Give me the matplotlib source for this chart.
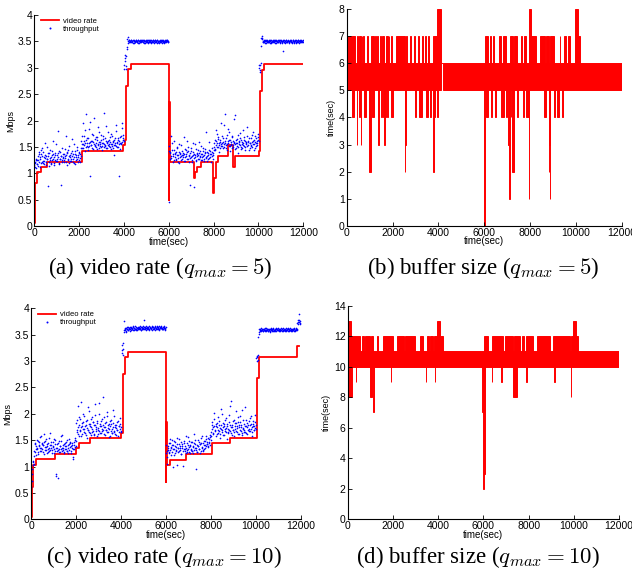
import numpy as np
import matplotlib.pyplot as plt

plt.rcParams['font.family'] = ['Liberation Sans', 'DejaVu Sans']
plt.rcParams['mathtext.fontset'] = 'cm'

sample_period = 30  # seconds between two throughput samples of one probe
probe_offset = 15   # second probe is shifted by half a period

# ---- q_max = 5 : requested video rate (step changes) ----
rate_a_t = [0, 30, 100, 280, 550, 2110, 3970, 4045, 4090, 4190, 4300, 6000, 6030, 6060,
            7110, 7180, 7255, 7435, 7955, 8030, 8120, 8180, 8620, 8860, 8960, 10005,
            10080, 10155, 10260, 12000]
rate_a_v = [0.05, 0.81, 1.02, 1.12, 1.22, 1.43, 1.53, 1.63, 2.65, 2.97, 3.07, 0.50, 2.35, 1.22,
            0.92, 1.02, 1.12, 1.22, 0.62, 0.92, 1.22, 1.32, 1.54, 1.12, 1.33, 1.43,
            2.56, 2.96, 3.07, 3.07]

# measured throughput
tp_a = [
    1.15, 1.22, 1.10, 1.25,
    1.18, 1.32, 1.25, 1.41, 1.12, 1.28, 1.36, 1.21, 1.47, 1.19,
    1.30, 1.24, 1.58, 1.15, 1.33, 1.27, 0.76, 1.39, 1.22, 1.29,
    1.44, 1.17, 1.35, 1.26, 1.62, 1.31, 1.20, 1.38, 1.23, 1.34,
    1.28, 1.80, 1.19, 1.42, 1.27, 1.33, 0.77, 1.25, 1.37, 1.30,
    1.21, 1.46, 1.29, 1.35, 1.16, 1.40, 1.26, 1.52, 1.32, 1.24,
    1.38, 1.28, 1.65, 1.22, 1.36, 1.31, 1.43, 1.18, 1.34, 1.27,
    1.49, 1.30, 1.39, 1.25, 1.21, 1.33,
    1.62, 1.48, 1.95, 1.55, 1.71, 1.43, 1.58, 2.12, 1.52, 1.66,
    1.49, 1.84, 1.57, 0.94, 1.61, 1.53, 1.75, 1.46, 1.59, 2.05,
    1.54, 1.68, 1.50, 1.63, 1.56, 1.88, 1.47, 1.60, 1.52, 1.72,
    1.58, 1.45, 1.65, 1.55, 2.15, 1.51, 1.62, 1.48, 1.57, 1.79,
    1.53, 1.64, 1.50, 1.59, 1.46, 1.70, 1.56, 1.61, 1.34, 1.54,
    1.66, 1.52, 1.92, 1.58, 1.49, 1.63, 0.95, 1.57, 1.68, 1.55,
    1.60, 1.85, 1.72,
    1.62, 3.05, 3.18, 2.97, 3.22,
    3.40, 3.58, 3.47, 3.52, 3.49, 3.51, 3.53, 3.48, 3.50, 3.52,
    3.47, 3.51, 3.49, 3.53, 3.50, 3.48, 3.52, 3.51, 3.47, 3.50,
    3.53, 3.49, 3.51, 3.48, 3.52, 3.50, 3.47, 3.51, 3.53, 3.49,
    3.50, 3.52, 3.48, 3.51, 3.49, 3.53, 3.47, 3.50, 3.52, 3.49,
    3.51, 3.48, 3.53, 3.50, 3.47, 3.52, 3.49, 3.51, 3.50, 3.48,
    3.53, 3.51, 3.47, 3.50, 3.52, 3.49, 3.51, 3.48, 3.53, 3.50,
    3.52, 3.49,
    0.45,
    1.52, 1.38, 1.71, 1.29, 1.44, 1.33, 1.25, 1.62, 1.36, 1.41,
    1.28, 1.47, 1.35, 1.22, 1.55, 1.31, 1.39, 1.26, 1.43, 1.34,
    1.30, 1.68, 1.37, 1.24, 1.45, 1.32, 1.40, 1.27, 1.50, 1.35,
    0.78, 1.29, 1.42, 1.33, 1.21, 1.57, 1.36, 0.74, 1.31, 1.46,
    1.25, 1.38, 1.34, 1.28, 1.60, 1.32, 1.43, 1.26, 1.37, 1.30,
    1.48, 1.23, 1.35, 1.41, 1.29, 1.79, 1.33, 1.39, 1.27, 1.44,
    1.31, 1.36, 1.22, 1.40, 1.34, 1.28,
    1.50, 1.63, 1.45, 1.82, 1.57, 1.49, 1.68, 1.54, 1.41, 1.60,
    1.52, 1.95, 1.58, 1.47, 1.66, 1.55, 2.12, 1.61, 1.48, 1.73,
    1.56, 1.84, 1.51, 1.64, 1.43, 1.59, 1.53, 1.70, 1.49, 1.62,
    1.57, 2.10, 1.46, 1.58, 1.65, 1.52, 1.38, 1.60, 1.55, 1.76,
    1.50, 1.63, 1.47, 1.58, 1.54, 1.69, 1.44, 1.61, 1.56, 1.88,
    1.51, 1.59, 1.66, 1.48, 1.57, 1.53, 1.72, 1.49, 1.62, 1.55,
    1.45, 1.60, 1.67, 1.52, 1.58, 1.63, 1.75,
    3.00, 2.95, 3.05, 3.42,
    3.60, 3.55, 3.49, 3.51, 3.48, 3.52, 3.50, 3.47, 3.53, 3.49,
    3.51, 3.48, 3.50, 3.52, 3.47, 3.51, 3.49, 3.53, 3.50, 3.48,
    3.52, 3.51, 3.47, 3.50, 3.53, 3.49, 3.51, 3.48, 3.52, 3.50,
    3.47, 3.51, 3.31, 3.49, 3.53, 3.50, 3.48, 3.52, 3.49, 3.51,
    3.47, 3.50, 3.53, 3.48, 3.51, 3.49, 3.52, 3.50, 3.47, 3.51,
    3.53, 3.49, 3.50, 3.48, 3.52, 3.51, 3.47, 3.50, 3.49, 3.53,
    3.51, 3.48,
]
tp_a2 = [
    1.20, 1.12, 1.27, 1.18,
    1.26, 1.14, 1.37, 1.22, 1.30, 1.45, 1.19, 1.33, 1.24, 1.40,
    1.17, 1.29, 1.35, 1.21, 1.50, 1.27, 1.32, 1.13, 1.38, 1.25,
    1.31, 1.20, 1.43, 1.28, 1.36, 1.16, 1.34, 1.26, 1.55, 1.23,
    1.39, 1.30, 1.18, 1.41, 1.27, 1.33, 1.22, 1.48, 1.29, 1.36,
    1.25, 1.32, 1.70, 1.21, 1.38, 1.28, 1.44, 1.19, 1.35, 1.30,
    1.24, 1.42, 1.33, 1.27, 1.56, 1.20, 1.37, 1.31, 1.26, 1.45,
    1.34, 1.22, 1.40, 1.29, 1.36, 1.48,
    1.55, 1.70, 1.47, 1.61, 1.53, 1.82, 1.50, 1.64, 1.58, 1.45,
    1.67, 1.52, 1.59, 1.98, 1.54, 1.62, 1.48, 1.73, 1.56, 1.51,
    1.65, 1.57, 1.46, 1.69, 1.53, 1.60, 1.78, 1.55, 1.49, 1.63,
    1.52, 1.58, 1.71, 1.50, 1.66, 1.54, 1.90, 1.59, 1.47, 1.62,
    1.56, 1.51, 1.68, 1.55, 1.74, 1.52, 1.60, 1.48, 1.64, 1.57,
    1.53, 1.81, 1.59, 1.50, 1.66, 1.55, 1.61, 1.46, 1.70, 1.58,
    1.96, 1.63, 1.67,
    2.98, 3.12, 3.25, 3.03, 3.36,
    3.55, 3.50, 3.52, 3.48, 3.51, 3.49, 3.53, 3.50, 3.47, 3.52,
    3.50, 3.48, 3.53, 3.51, 3.49, 3.52, 3.47, 3.50, 3.53, 3.48,
    3.51, 3.50, 3.52, 3.49, 3.47, 3.53, 3.50, 3.48, 3.51, 3.52,
    3.49, 3.47, 3.53, 3.50, 3.52, 3.48, 3.51, 3.49, 3.53, 3.47,
    3.50, 3.52, 3.48, 3.51, 3.53, 3.49, 3.50, 3.47, 3.52, 3.51,
    3.48, 3.50, 3.53, 3.49, 3.51, 3.47, 3.52, 3.50, 3.48, 3.53,
    3.51, 3.49,
    1.42,
    1.40, 1.27, 1.33, 1.58, 1.36, 1.22, 1.45, 1.31, 1.38, 1.26,
    1.49, 1.34, 1.29, 1.41, 1.20, 1.37, 1.32, 1.53, 1.28, 1.39,
    1.35, 1.24, 1.46, 1.30, 1.36, 1.62, 1.27, 1.42, 1.33, 1.21,
    1.38, 1.31, 1.47, 1.25, 1.35, 1.40, 1.29, 1.34, 1.55, 1.23,
    1.37, 1.32, 1.44, 1.27, 1.39, 1.30, 1.36, 1.51, 1.26, 1.42,
    1.33, 1.28, 1.38, 1.46, 1.31, 1.24, 1.40, 1.35, 1.59, 1.29,
    1.43, 1.37, 1.32, 1.48, 1.39, 1.45,
    1.58, 1.46, 1.61, 1.53, 1.74, 1.50, 1.65, 1.57, 1.48, 1.63,
    1.55, 1.71, 1.52, 1.60, 1.92, 1.49, 1.58, 1.66, 1.54, 1.45,
    1.62, 1.57, 1.79, 1.51, 1.64, 1.56, 1.48, 1.69, 1.53, 1.60,
    2.02, 1.55, 1.47, 1.63, 1.58, 1.72, 1.50, 1.61, 1.54, 1.67,
    1.46, 1.59, 1.56, 1.83, 1.52, 1.64, 1.49, 1.60, 1.57, 1.71,
    1.53, 1.62, 1.45, 1.58, 1.66, 1.51, 1.59, 1.78, 1.55, 1.63,
    1.48, 1.70, 1.57, 1.61, 1.54, 1.68, 1.62,
    3.05, 2.92, 3.10, 3.56,
    3.57, 3.51, 3.48, 3.52, 3.50, 3.47, 3.53, 3.49, 3.51, 3.48,
    3.52, 3.50, 3.47, 3.53, 3.49, 3.51, 3.50, 3.48, 3.52, 3.47,
    3.50, 3.53, 3.49, 3.51, 3.48, 3.52, 3.50, 3.47, 3.53, 3.51,
    3.49, 3.50, 3.52, 3.48, 3.51, 3.47, 3.53, 3.50, 3.49, 3.52,
    3.48, 3.51, 3.50, 3.53, 3.47, 3.49, 3.52, 3.51, 3.48, 3.50,
    3.53, 3.47, 3.51, 3.49, 3.52, 3.50, 3.48, 3.53, 3.51, 3.49,
    3.50, 3.52,
]

# ---- q_max = 10 ----
rate_c_t = [0, 30, 60, 90, 190, 1040, 2005, 2110, 2600, 3980, 4070, 4160, 4310, 6000, 6020,
            6040, 6178, 6891, 8035, 8850, 10040, 10143, 11822, 11938]
rate_c_v = [0.05, 0.62, 0.93, 1.03, 1.14, 1.23, 1.35, 1.44, 1.55, 1.64, 2.76, 3.07, 3.17, 0.70, 1.85,
            1.02, 1.12, 1.23, 1.44, 1.55, 2.67, 3.08, 3.29, 3.29]

tp_c = [
    0.62, 0.85, 1.02, 1.10,
    1.05, 1.28, 1.42, 1.33, 1.51, 1.36, 1.24, 1.47, 1.39, 1.30,
    1.58, 1.35, 1.44, 1.27, 1.40, 1.62, 1.32, 1.48, 1.37, 1.25,
    1.43, 1.34, 1.55, 1.29, 1.41, 1.36, 1.46, 1.31, 1.38, 1.52,
    1.26, 1.42, 1.35, 0.82, 1.30, 0.78, 1.45, 1.33, 1.39, 1.28,
    1.49, 1.36, 1.60, 1.32, 1.43, 1.27, 1.38, 1.34, 1.47, 1.30,
    1.41, 1.25, 1.53, 1.37, 1.44, 1.29, 1.35, 1.40, 1.18, 1.46,
    1.33, 1.50, 1.39,
    1.82, 1.65, 2.15, 1.74, 1.58, 1.90, 1.69, 2.22, 1.77, 1.61,
    1.85, 1.72, 1.96, 1.63, 1.79, 1.54, 1.88, 1.70, 2.05, 1.66,
    1.81, 1.59, 1.75, 1.93, 1.68, 1.84, 1.62, 1.78, 2.18, 1.71,
    1.86, 1.57, 1.73, 1.99, 1.67, 1.80, 1.64, 1.76, 1.91, 1.69,
    2.32, 1.74, 1.60, 1.83, 1.70, 1.95, 1.65, 1.78, 1.56, 1.72,
    1.87, 1.68, 1.81, 1.63, 2.08, 1.75, 1.66, 1.79, 1.61, 1.73,
    1.84, 1.69, 1.58, 1.77, 1.92, 1.71, 1.66,
    3.30, 3.15, 3.22, 3.55,
    3.76, 3.58, 3.62, 3.55, 3.60, 3.64, 3.59, 3.63, 3.61, 3.57,
    3.65, 3.60, 3.62, 3.66, 3.59, 3.63, 3.61, 3.64, 3.58, 3.62,
    3.65, 3.60, 3.63, 3.61, 3.66, 3.59, 3.64, 3.62, 3.60, 3.65,
    3.78, 3.61, 3.63, 3.66, 3.60, 3.64, 3.62, 3.59, 3.65, 3.63,
    3.61, 3.66, 3.60, 3.64, 3.62, 3.65, 3.59, 3.63, 3.67, 3.61,
    3.64, 3.60, 3.66, 3.62, 3.65, 3.63, 3.60, 3.64, 3.61, 3.66,
    3.62, 3.59,
    1.25, 1.05, 1.30,
    1.32, 1.45, 1.28, 1.52, 1.37, 1.22, 1.41, 1.00, 1.34, 1.48,
    1.26, 1.39, 1.31, 1.55, 1.02, 1.36, 1.43, 1.29, 1.35, 1.47,
    1.24, 1.38, 1.01, 1.33, 1.44, 1.30, 1.58, 1.36, 1.27, 1.41,
    1.34, 1.49, 1.25, 1.39, 1.32, 1.46, 1.29, 1.37, 1.62, 1.31,
    1.43, 0.95, 1.35, 1.28, 1.50, 1.38, 1.33, 1.42, 1.26, 1.45,
    1.36, 1.57, 1.30, 1.40, 1.34, 1.48, 1.39, 1.52, 1.43, 1.37,
    1.55, 1.46, 1.41, 1.60,
    1.58, 1.72, 1.85, 1.64, 1.77, 2.02, 1.69, 1.81, 1.61, 1.74,
    1.93, 1.67, 1.79, 1.55, 1.71, 2.10, 1.66, 1.83, 1.60, 1.76,
    1.89, 1.68, 1.73, 1.52, 1.80, 1.65, 1.97, 1.70, 1.78, 2.25,
    1.63, 1.75, 1.86, 1.69, 1.57, 1.82, 1.72, 2.05, 1.66, 1.77,
    1.84, 1.61, 1.74, 1.95, 1.68, 1.79, 1.59, 1.73, 1.88, 1.70,
    2.12, 1.65, 1.76, 1.83, 1.62, 1.78, 1.71, 1.92, 1.67, 1.80,
    1.74, 1.58, 1.86, 1.69, 1.77, 1.98, 1.72,
    3.05, 3.10, 3.02,
    3.45, 3.52, 3.58, 3.60, 3.56, 3.59, 3.61, 3.57, 3.60, 3.58,
    3.62, 3.56, 3.59, 3.61, 3.57, 3.60, 3.58, 3.55, 3.61, 3.59,
    3.57, 3.60, 3.62, 3.58, 3.56, 3.59, 3.61, 3.57, 3.60, 3.58,
    3.63, 3.59, 3.56, 3.61, 3.58, 3.60, 3.57, 3.62, 3.59, 3.61,
    3.58, 3.56, 3.60, 3.59, 3.62, 3.57, 3.61, 3.58, 3.60, 3.59,
    3.57, 3.61, 3.58, 3.60, 3.56, 3.59, 3.62, 3.58, 3.72, 3.77,
    3.90, 3.74, 3.76,
]
tp_c2 = [
    0.72, 0.95, 1.08, 1.20,
    1.30, 1.45, 1.22, 1.38, 1.33, 1.49, 1.27, 1.41, 1.36, 1.56,
    1.29, 1.43, 1.34, 1.40, 1.24, 1.47, 1.37, 1.31, 1.52, 1.39,
    1.28, 1.44, 1.35, 1.63, 1.32, 1.40, 1.26, 1.46, 1.37, 1.33,
    1.50, 1.29, 0.86, 1.42, 1.36, 1.31, 1.48, 1.27, 1.39, 1.34,
    1.57, 1.30, 1.41, 1.36, 1.25, 1.45, 1.33, 1.38, 1.29, 1.51,
    1.35, 1.42, 1.31, 1.47, 1.26, 1.39, 1.44, 1.34, 1.15, 1.40,
    1.37, 1.55, 1.48,
    1.70, 1.88, 1.62, 1.79, 1.94, 1.67, 1.75, 1.58, 1.83, 1.71,
    2.00, 1.65, 1.77, 1.86, 1.60, 1.73, 2.12, 1.69, 1.80, 1.63,
    1.76, 1.90, 1.66, 1.72, 1.85, 1.59, 1.78, 1.97, 1.68, 1.74,
    1.82, 1.61, 1.70, 2.20, 1.76, 1.64, 1.87, 1.72, 1.67, 1.79,
    1.93, 1.62, 1.75, 1.84, 1.69, 2.03, 1.73, 1.66, 1.80, 1.58,
    1.77, 1.89, 1.64, 1.71, 1.83, 1.68, 1.95, 1.74, 1.60, 1.78,
    1.70, 1.86, 1.65, 1.76, 1.81, 1.67, 1.75,
    3.20, 3.12, 3.35, 3.58,
    3.60, 3.63, 3.57, 3.61, 3.64, 3.59, 3.62, 3.60, 3.65, 3.58,
    3.63, 3.61, 3.59, 3.64, 3.62, 3.60, 3.66, 3.61, 3.63, 3.59,
    3.62, 3.65, 3.60, 3.63, 3.58, 3.64, 3.61, 3.66, 3.62, 3.60,
    3.63, 3.65, 3.59, 3.62, 3.64, 3.61, 3.66, 3.60, 3.63, 3.62,
    3.65, 3.59, 3.64, 3.61, 3.63, 3.66, 3.60, 3.62, 3.65, 3.61,
    3.63, 3.59, 3.64, 3.62, 3.66, 3.60, 3.63, 3.61, 3.65, 3.62,
    3.60, 3.64,
    1.40, 1.18, 1.35,
    1.38, 1.25, 1.44, 1.31, 1.36, 1.50, 1.28, 1.40, 1.34, 1.22,
    1.46, 1.37, 1.30, 1.42, 1.27, 1.35, 1.53, 1.32, 1.39, 1.24,
    1.43, 1.36, 1.29, 1.48, 1.33, 1.38, 1.26, 1.45, 1.31, 1.56,
    1.37, 1.28, 1.41, 1.34, 1.47, 1.30, 1.39, 1.25, 1.44, 1.36,
    1.51, 1.32, 1.40, 1.27, 1.38, 1.46, 1.33, 1.42, 1.29, 1.54,
    1.37, 1.44, 1.31, 1.49, 1.40, 1.35, 1.58, 1.43, 1.47, 1.39,
    1.52, 1.44, 1.56, 1.50,
    1.66, 1.79, 1.61, 1.74, 1.90, 1.68, 1.76, 1.57, 1.83, 1.70,
    1.64, 1.87, 1.73, 1.62, 1.78, 2.00, 1.69, 1.75, 1.59, 1.81,
    1.72, 1.66, 1.92, 1.77, 1.63, 1.71, 1.85, 1.68, 2.15, 1.74,
    1.60, 1.79, 1.70, 1.88, 1.65, 1.76, 1.82, 1.67, 1.73, 1.94,
    1.61, 1.78, 1.69, 1.84, 1.75, 1.64, 2.07, 1.71, 1.80, 1.66,
    1.77, 1.89, 1.63, 1.74, 1.70, 1.86, 1.68, 1.79, 1.72, 1.96,
    1.65, 1.81, 1.76, 1.69, 1.84, 1.73, 1.78,
    3.08, 3.00, 3.12,
    3.55, 3.60, 3.57, 3.59, 3.62, 3.58, 3.56, 3.60, 3.61, 3.57,
    3.59, 3.62, 3.58, 3.60, 3.56, 3.61, 3.59, 3.57, 3.60, 3.62,
    3.58, 3.56, 3.61, 3.59, 3.60, 3.57, 3.62, 3.58, 3.61, 3.59,
    3.56, 3.60, 3.58, 3.62, 3.57, 3.61, 3.59, 3.60, 3.58, 3.56,
    3.62, 3.59, 3.61, 3.57, 3.60, 3.58, 3.63, 3.59, 3.56, 3.61,
    3.58, 3.60, 3.62, 3.57, 3.59, 3.61, 3.58, 3.60, 3.74, 3.70,
    3.78, 3.73, 3.71,
]

# ---- buffer occupancy: the trace flips fast between two levels, so it is
# kept as (start, end, low, high) bands plus excursions (start, end, level) ----
band_b = [(30, 4100, 5, 6), (4100, 4190, 6, 6), (4190, 12000, 5, 6)]
up_b = [
    (0, 380, 7), (450, 490, 7), (545, 620, 7), (650, 680, 7), (700, 760, 7), (900, 950, 7),
    (1060, 1200, 7), (1240, 1270, 7), (1320, 1360, 7), (1450, 1480, 7), (1550, 1610, 7),
    (1720, 1780, 7), (1830, 1860, 7), (1950, 1990, 7), (2150, 2530, 7), (2600, 2640, 7),
    (2740, 2790, 7), (2920, 2960, 7), (3090, 3140, 7), (3280, 3330, 7), (3430, 3470, 7),
    (3560, 3600, 7), (3780, 3840, 7), (3870, 3960, 7), (3960, 4100, 8),
    (6030, 6175, 7), (6245, 6290, 7), (6400, 6430, 7), (6650, 6720, 7), (6825, 6940, 7),
    (7127, 7270, 7), (7300, 7445, 7), (7590, 7660, 7), (7735, 7835, 7), (7950, 8050, 8),
    (8050, 8240, 7), (8430, 8670, 7), (8715, 8820, 7), (8890, 9035, 7), (9295, 9325, 7),
    (9470, 9585, 7), (9640, 9730, 7), (9975, 10075, 8), (10075, 10190, 7),
]
down_b = [
    (0, 15, 0), (250, 325, 4), (440, 470, 3), (545, 590, 4), (620, 640, 3),
    (735, 840, 4), (985, 1060, 2), (1100, 1205, 4), (1350, 1425, 4), (1380, 1400, 3),
    (1500, 1560, 4), (1600, 1700, 4), (1620, 1650, 3), (1740, 1795, 4), (1940, 2015, 4),
    (2530, 2560, 2), (2560, 2600, 3), (2970, 3045, 4), (3150, 3265, 4), (3440, 3530, 4),
    (3630, 3675, 4), (3750, 3790, 2), (3790, 3855, 4), (3925, 4000, 4),
    (6000, 6020, 0), (6072, 6145, 4), (6290, 6360, 4), (6460, 6535, 4), (6750, 6870, 4),
    (6940, 7010, 4), (7040, 7085, 3), (7085, 7100, 2), (7100, 7125, 1), (7155, 7185, 4),
    (7230, 7300, 2), (7415, 7475, 4), (7690, 7735, 4), (7805, 7950, 4), (7950, 7965, 1),
    (8630, 8700, 4), (8820, 8845, 2), (8845, 8860, 3), (8860, 8890, 1), (9035, 9105, 4),
    (9180, 9250, 4), (9395, 9425, 4),
]

band_d = [(60, 12000, 10, 11)]
up_d = [
    (0, 130, 13), (130, 560, 12), (620, 700, 12), (765, 1000, 12), (1040, 1135, 12),
    (1310, 1350, 12), (1580, 1990, 12), (2165, 2500, 12), (2530, 2990, 12), (3200, 3345, 12),
    (3525, 3610, 12), (3640, 3770, 12), (3795, 3935, 12), (3965, 4085, 13), (4085, 4230, 12),
    (6045, 6220, 12), (6370, 6860, 12), (6950, 7300, 12), (7340, 7630, 12), (7690, 7790, 12),
    (7880, 8210, 12), (8350, 8960, 12), (9090, 9500, 12), (9530, 9840, 12), (9870, 9980, 12),
    (9980, 10100, 13), (10100, 10200, 12),
]
down_d = [
    (0, 15, 0), (75, 175, 8), (360, 380, 9), (990, 1060, 8), (1135, 1165, 7),
    (1905, 1925, 9), (3440, 3460, 9), (3850, 3870, 9), (5950, 5965, 7), (5995, 6030, 2),
    (6030, 6060, 3), (6060, 6080, 9), (6375, 6395, 9), (6800, 6820, 9), (7330, 7400, 8),
    (7420, 7475, 8), (7905, 7925, 9), (9130, 9150, 9), (9870, 9890, 8),
]


def style_axes(ax, ymax, ystep, ylabel):
    ax.set_xlim(0, 12000)
    ax.set_ylim(0, ymax)
    ax.set_xticks(np.arange(0, 12001, 2000))
    yt = np.arange(0, ymax + 1e-9, ystep)
    ax.set_yticks(yt)
    ax.set_yticklabels(['%g' % v for v in yt])
    ax.spines['top'].set_visible(False)
    ax.spines['right'].set_visible(False)
    for s in ('left', 'bottom'):
        ax.spines[s].set_linewidth(0.8)
    ax.tick_params(direction='in', length=3, width=0.6, labelsize=7.5, pad=1.5)
    ax.set_xlabel('time(sec)', fontsize=7, labelpad=-1)
    ax.set_ylabel(ylabel, fontsize=6.5, labelpad=2)


def draw_rate(ax, rt, rv, tp, tp2):
    t = np.arange(len(tp)) * sample_period
    ax.step(rt, rv, where='post', color='red', lw=1.3, label='video rate')
    ax.plot(t, tp, '.', color='blue', ms=2.4, mew=0, label='throughput')
    ax.plot(t + probe_offset, tp2, '.', color='blue', ms=2.4, mew=0)
    ax.legend(loc='upper left', bbox_to_anchor=(0.0, 1.02), frameon=False, fontsize=5.5,
              handlelength=2.3, handletextpad=0.5, labelspacing=0.1, markerscale=1.2)


def draw_buffer(ax, bands, ups, downs):
    for t0, t1, lo, hi in bands:
        ax.bar(t0, hi - lo, width=t1 - t0, bottom=lo, align='edge',
               color='red', edgecolor='red', lw=0.7)
    top = bands[-1][3]
    bottom = bands[-1][2]
    for t0, t1, lvl in ups:
        ax.bar(t0, lvl - top, width=t1 - t0, bottom=top, align='edge',
               color='red', edgecolor='red', lw=0.7)
    for t0, t1, lvl in downs:
        ax.bar(t0, bottom - lvl, width=t1 - t0, bottom=lvl, align='edge',
               color='red', edgecolor='red', lw=0.7)


fig = plt.figure(figsize=(6.32, 5.83), dpi=100)
ax_a = fig.add_axes([0.0543, 0.6123, 0.4256, 0.3619])
ax_b = fig.add_axes([0.5486, 0.6129, 0.4351, 0.3712])
ax_c = fig.add_axes([0.0495, 0.1093, 0.4263, 0.3619])
ax_d = fig.add_axes([0.5502, 0.1093, 0.4293, 0.3664])

draw_rate(ax_a, rate_a_t, rate_a_v, tp_a, tp_a2)
style_axes(ax_a, 4, 0.5, 'Mbps')
draw_buffer(ax_b, band_b, up_b, down_b)
style_axes(ax_b, 8, 1, 'time(sec)')
draw_rate(ax_c, rate_c_t, rate_c_v, tp_c, tp_c2)
style_axes(ax_c, 4, 0.5, 'Mbps')
draw_buffer(ax_d, band_d, up_d, down_d)
style_axes(ax_d, 14, 2, 'time(sec)')

cap = dict(fontsize=16.5, ha='center', va='center', family='Liberation Serif')
fig.text(160 / 632, 1 - 268 / 583, r'(a) video rate ($q_{max} = 5$)', **cap)
fig.text(483 / 632, 1 - 268 / 583, r'(b) buffer size ($q_{max} = 5$)', **cap)
fig.text(164 / 632, 1 - 557 / 583, r'(c) video rate ($q_{max} = 10$)', **cap)
fig.text(478 / 632, 1 - 557 / 583, r'(d) buffer size ($q_{max} = 10$)', **cap)

fig.savefig('out.png', dpi=100)
